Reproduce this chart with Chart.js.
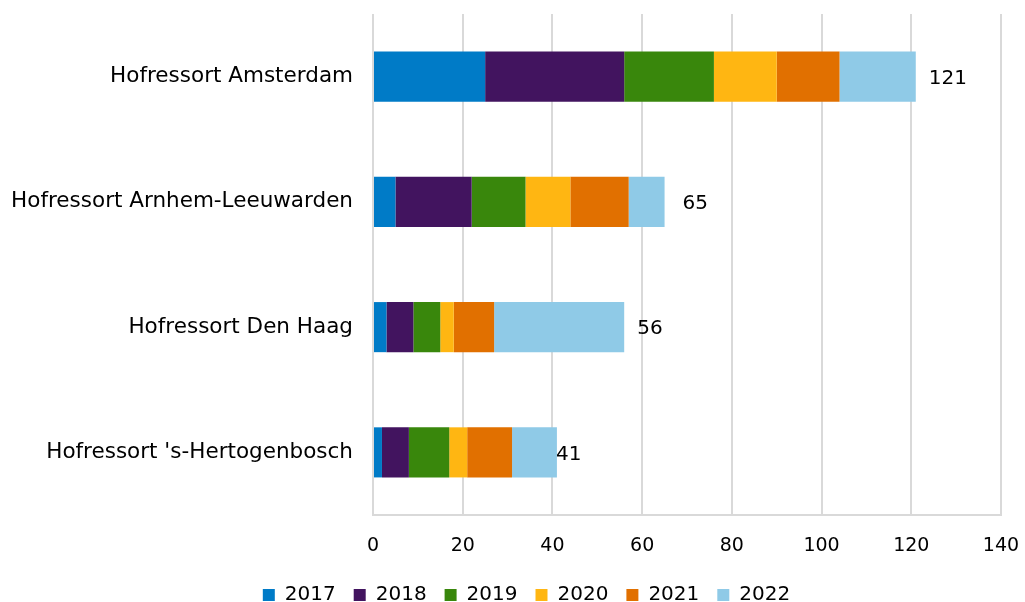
<!DOCTYPE html>
<html>
<head>
<meta charset="utf-8">
<script src="https://cdn.jsdelivr.net/npm/chart.js@4"></script>
<style>
  html, body { margin: 0; padding: 0; background: #fff; }
</style>
</head>
<body>
<canvas id="hof-chart" width="1025" height="602"></canvas>
<script>
const courts = ['Hofressort Amsterdam', 'Hofressort Arnhem-Leeuwarden', 'Hofressort Den Haag', "Hofressort 's-Hertogenbosch"];
const years = ['2017', '2018', '2019', '2020', '2021', '2022'];
const v2017 = [25, 5, 3, 2];
const v2018 = [31, 17, 6, 6];
const v2019 = [20, 12, 6, 9];
const v2020 = [14, 10, 3, 4];
const v2021 = [14, 13, 9, 10];
const v2022 = [17, 8, 29, 10];
const xTicks = [0, 20, 40, 60, 80, 100, 120, 140];

const colors = ['#007BC7', '#42145F', '#39870C', '#FFB612', '#E17000', '#8FCAE7'];
const series = [v2017, v2018, v2019, v2020, v2021, v2022];
const font = 'DejaVu Sans';

// totals at the end of each bar (Excel puts them a bit irregularly)
const labelShift = [13, 18, 13, -1];
const totalsPlugin = {
  id: 'totals',
  afterLayout(chart) {
    // the left padding is only there to shift the legend; let the category labels use it
    chart.scales.y.left = 0;
  },
  afterDatasetsDraw(chart) {
    const c = chart.ctx;
    const x = chart.scales.x;
    const last = chart.getDatasetMeta(series.length - 1);
    c.save();
    c.font = '20px "' + font + '"';
    c.fillStyle = '#000';
    c.textAlign = 'left';
    c.textBaseline = 'middle';
    courts.forEach((_, i) => {
      const total = series.reduce((s, arr) => s + arr[i], 0);
      c.fillText(String(total), x.getPixelForValue(total) + labelShift[i], last.data[i].y + 2);
    });
    c.restore();
  }
};

new Chart(document.getElementById('hof-chart'), {
  type: 'bar',
  data: {
    labels: courts,
    datasets: years.map((y, i) => ({
      label: y,
      data: series[i],
      backgroundColor: colors[i],
      borderWidth: 0,
      barPercentage: 1,
      categoryPercentage: 0.4
    }))
  },
  options: {
    indexAxis: 'y',
    responsive: false,
    animation: false,
    layout: { padding: { top: 14, right: 24, left: 52, bottom: -13 } },
    plugins: {
      legend: {
        position: 'bottom',
        labels: {
          font: { family: font, size: 20 },
          color: '#000',
          boxWidth: 12,
          boxHeight: 12,
          padding: 18
        }
      },
      tooltip: { enabled: false }
    },
    scales: {
      x: {
        stacked: true,
        min: 0,
        max: 140,
        afterBuildTicks(scale) { scale.ticks = xTicks.map(v => ({ value: v })); },
        grid: { color: '#d9d9d9', lineWidth: 2, drawTicks: false },
        border: { color: '#d9d9d9', width: 2 },
        ticks: { font: { family: font, size: 19 }, color: '#000', padding: 20 },
        afterFit(scale) {
          scale.height = 52;
          scale.paddingLeft = 0;
          scale.paddingRight = 0;
        }
      },
      y: {
        stacked: true,
        grid: { display: false, drawTicks: false },
        border: { display: false },
        ticks: { font: { family: font, size: 21.5 }, color: '#000', padding: 20 },
        afterFit(scale) {
          scale.width = 321;
          scale.paddingTop = 0;
          scale.paddingBottom = 0;
        }
      }
    }
  },
  plugins: [totalsPlugin]
});
</script>
</body>
</html>
